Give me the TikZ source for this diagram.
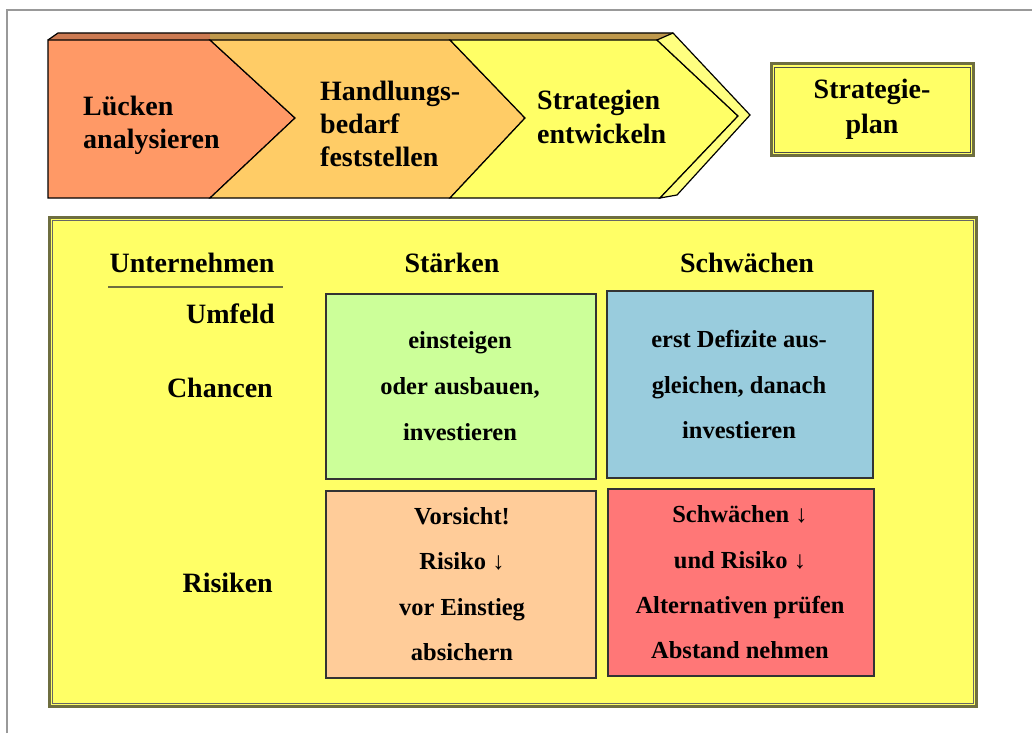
\documentclass[tikz,border=0pt]{standalone}
\usepackage{fontspec}
\setmainfont{Liberation Serif}
\definecolor{cOrange}{HTML}{FF9966}
\definecolor{cLOrange}{HTML}{FFCC66}
\definecolor{cYellow}{HTML}{FFFF66}
\definecolor{cBevel}{HTML}{FFFF80}
\definecolor{cGreen}{HTML}{CCFF99}
\definecolor{cBlue}{HTML}{99CCDD}
\definecolor{cPeach}{HTML}{FFCC99}
\definecolor{cRed}{HTML}{FF7777}
\definecolor{cOlive}{HTML}{6E6E40}
\definecolor{cFrame}{HTML}{999999}
\begin{document}
\begin{tikzpicture}[x=1pt,y=-1pt,
  chev/.style={draw=black,line width=1.2pt,line join=miter},
  chevtext/.style={anchor=base west,font=\fontsize{28}{32}\selectfont\bfseries,inner sep=0pt},
  head/.style={anchor=base,font=\fontsize{28}{32}\selectfont\bfseries,inner sep=0pt},
  rowlab/.style={anchor=base east,font=\fontsize{28}{32}\selectfont\bfseries,inner sep=0pt},
  quad/.style={draw=black!80,line width=1.6pt,inner sep=0pt,anchor=north west},
  qtext/.style={anchor=base,font=\fontsize{24.5}{28}\selectfont\bfseries,inner sep=0pt},
  oliveframe/.style={draw=cOlive,line width=3pt}
]
\useasboundingbox (0,0) rectangle (1032,733);
\fill[white] (0,0) rectangle (1032,733);
% outer frame
\draw[cFrame,line width=2.5pt] (7,733) -- (7,10) -- (1032,10);

% top 3D face
\fill[cOrange!80!black] (48,40) -- (58,33) -- (210,33) -- (210,40) -- cycle;
\fill[cLOrange!75!black] (210,40) -- (210,33) -- (673,33) -- (657,40) -- cycle;
\draw[black,line width=1.2pt] (48,40) -- (58,33) -- (673,33);
% chevrons
\draw[chev,fill=cOrange] (48,40) -- (210,40) -- (295,118) -- (210,198) -- (48,198) -- cycle;
\draw[chev,fill=cLOrange] (210,40) -- (450,40) -- (525,118) -- (450,198) -- (210,198) -- (295,118) -- cycle;
\draw[chev,fill=cYellow] (450,40) -- (657,40) -- (738,116) -- (660,198) -- (450,198) -- (525,118) -- cycle;
\draw[chev,fill=cBevel] (657,40) -- (673,33) -- (750,115) -- (677,195) -- (660,198) -- (738,116) -- cycle;

\node[chevtext] (l1a) at (83,115) {Lücken};
\node[chevtext] (l1b) at (83,148) {analysieren};
\node[chevtext] (l2a) at (320,100) {Handlungs-};
\node[chevtext] (l2b) at (320,133) {bedarf};
\node[chevtext] (l2c) at (320,166) {feststellen};
\node[chevtext] (l3a) at (537,110) {Strategien};
\node[chevtext] (l3b) at (537,143) {entwickeln};

% Strategieplan box
\draw[oliveframe,fill=cYellow] (771,64) rectangle (973,155);
\draw[black!70,line width=0.8pt] (774,67) rectangle (970,152);
\node[head] (sp1) at (872,99) {Strategie-};
\node[head] (sp2) at (872,133) {plan};

% main box
\draw[oliveframe,fill=cYellow] (49,217) rectangle (976,706);
\draw[black!60,line width=0.6pt] (52,220) rectangle (973,703);

\node[head] (unt) at (192,272) {Unternehmen};
\draw[cOlive,line width=1.5pt] (108,287) -- (283,287);
\node[head] (st) at (452,272) {Stärken};
\node[head] (sw) at (747,272) {Schwächen};
\node[rowlab] (um) at (275,323) {Umfeld};
\node[rowlab] (ch) at (273,397) {Chancen};
\node[rowlab] (ri) at (273,592) {Risiken};

% quadrants
\node[quad,fill=cGreen,minimum width=270pt,minimum height=185pt] (qg) at (325,293) {};
\node[quad,fill=cBlue,minimum width=266pt,minimum height=187pt] (qb) at (606,290) {};
\node[quad,fill=cPeach,minimum width=270pt,minimum height=187pt] (qp) at (325,490) {};
\node[quad,fill=cRed,minimum width=266pt,minimum height=187pt] (qr) at (607,488) {};

\node[qtext] (g1) at (460,348) {einsteigen};
\node[qtext] (g2) at (460,394) {oder ausbauen,};
\node[qtext] (g3) at (460,440) {investieren};

\node[qtext] (b1) at (739,347) {erst Defizite aus-};
\node[qtext] (b2) at (739,393) {gleichen, danach};
\node[qtext] (b3) at (739,438) {investieren};

\node[qtext] (p1) at (462,524) {Vorsicht!};
\node[qtext] (p2) at (462,569) {Risiko ↓};
\node[qtext] (p3) at (462,615) {vor Einstieg};
\node[qtext] (p4) at (462,660) {absichern};

\node[qtext] (r1) at (740,522) {Schwächen ↓};
\node[qtext] (r2) at (740,568) {und Risiko ↓};
\node[qtext] (r3) at (740,613) {Alternativen prüfen};
\node[qtext] (r4) at (740,658) {Abstand nehmen};
\end{tikzpicture}
\end{document}
